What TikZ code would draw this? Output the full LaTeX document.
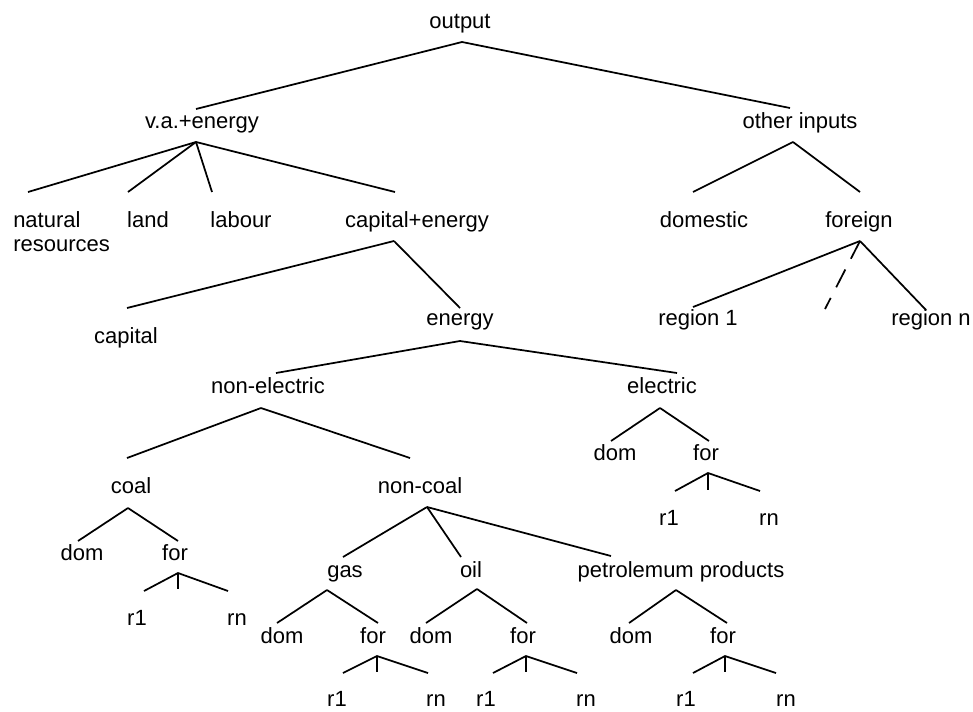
\documentclass[tikz,border=0pt]{standalone}
\usepackage{fontspec}
\setmainfont{Liberation Sans}
\usepackage{tikz}
\usetikzlibrary{positioning, calc}

\tikzset{
    lbl/.style={font=\fontsize{16.5}{18}\selectfont, inner sep=0pt, anchor=base},
    branch/.style={line width=1.3pt},
    gapline/.style={line width=1.3pt, dash pattern=on 15pt off 9pt}
}

\begin{document}
\begin{tikzpicture}[x=0.75pt, y=-0.75pt]
    \fill[white] (0,0) rectangle (973,711);
    \useasboundingbox (0,0) rectangle (973,711);
    % top levels
    \node[lbl] (out) at (460,28) {output};
    \node[lbl] (va) at (202,128) {v.a.+energy};
    \node[lbl] (oth) at (800,128) {other inputs};
    \node[lbl, anchor=base west, align=left] (nat) at (13,251) {natural\\resources};
    \node[lbl] (land) at (148,227) {land};
    \node[lbl] (lab) at (241,227) {labour};
    \node[lbl] (cape) at (417,227) {capital+energy};
    \node[lbl] (dom) at (704,227) {domestic};
    \node[lbl] (forg) at (859,227) {foreign};
    \node[lbl] (reg1) at (698,325) {region 1};
    \node[lbl] (regn) at (931,325) {region n};
    \node[lbl] (cap) at (126,343) {capital};
    \node[lbl] (enr) at (460,325) {energy};
    \node[lbl] (nel) at (268,393) {non-electric};
    \node[lbl] (ele) at (662,393) {electric};
    \node[lbl] (coal) at (131,493) {coal};
    \node[lbl] (ncoal) at (420,493) {non-coal};
    % electric
    \node[lbl] (edom) at (615,460) {dom};
    \node[lbl] (efor) at (706,460) {for};
    \node[lbl] (er1) at (669,525) {r1};
    \node[lbl] (ern) at (769,525) {rn};
    % coal
    \node[lbl] (cdom) at (82,560) {dom};
    \node[lbl] (cfor) at (175,560) {for};
    \node[lbl] (cr1) at (137,625) {r1};
    \node[lbl] (crn) at (237,625) {rn};
    % non-coal
    \node[lbl] (gas) at (345,577) {gas};
    \node[lbl] (oil) at (471,577) {oil};
    \node[lbl] (petro) at (681,577) {petrolemum products};
    \node[lbl] (gdom) at (282,643) {dom};
    \node[lbl] (gfor) at (373,643) {for};
    \node[lbl] (gr1) at (337,706) {r1};
    \node[lbl] (grn) at (436,706) {rn};
    \node[lbl] (odom) at (431,643) {dom};
    \node[lbl] (ofor) at (523,643) {for};
    \node[lbl] (or1) at (486,706) {r1};
    \node[lbl] (orn) at (586,706) {rn};
    \node[lbl] (pdom) at (631,643) {dom};
    \node[lbl] (pfor) at (723,643) {for};
    \node[lbl] (pr1) at (686,706) {r1};
    \node[lbl] (prn) at (786,706) {rn};

    % junctions
    \coordinate (out-j) at (462,42);
    \coordinate (va-j) at (196,142);
    \coordinate (oth-j) at (793,142);
    \coordinate (cape-j) at (394,241);
    \coordinate (forg-j) at (860,241);
    \coordinate (enr-j) at (460,341);
    \coordinate (nel-j) at (261,408);
    \coordinate (ele-j) at (660,408);
    \coordinate (efor-j) at (708,473);
    \coordinate (coal-j) at (128,508);
    \coordinate (cfor-j) at (178,573);
    \coordinate (ncoal-j) at (427,507);
    \coordinate (gas-j) at (327,590);
    \coordinate (gfor-j) at (377,656);
    \coordinate (oil-j) at (477,589);
    \coordinate (ofor-j) at (526,656);
    \coordinate (petro-j) at (676,590);
    \coordinate (pfor-j) at (725,656);

    % line ends
    \coordinate (va-t) at (196,109);
    \coordinate (oth-t) at (790,108);
    \coordinate (nat-t) at (28,192);
    \coordinate (land-t) at (128,192);
    \coordinate (lab-t) at (212,192);
    \coordinate (cape-t) at (395,192);
    \coordinate (dom-t) at (693,192);
    \coordinate (forg-t) at (860,192);
    \coordinate (cap-t) at (127,308);
    \coordinate (enr-t) at (460,308);
    \coordinate (reg1-t) at (693,307);
    \coordinate (regn-t) at (926,310);
    \coordinate (gap-t) at (825,309);
    \coordinate (nel-t) at (276,373);
    \coordinate (ele-t) at (677,373);
    \coordinate (coal-t) at (127,458);
    \coordinate (ncoal-t) at (410,458);
    \coordinate (edom-t) at (611,441);
    \coordinate (efor-t) at (709,441);
    \coordinate (er1-t) at (675,491);
    \coordinate (ern-t) at (760,491);
    \coordinate (efor-k) at (708,490);
    \coordinate (cdom-t) at (78,541);
    \coordinate (cfor-t) at (178,541);
    \coordinate (cr1-t) at (144,591);
    \coordinate (crn-t) at (228,591);
    \coordinate (cfor-k) at (178,589);
    \coordinate (gas-t) at (343,557);
    \coordinate (oil-t) at (461,557);
    \coordinate (petro-t) at (611,556);
    \coordinate (gdom-t) at (277,623);
    \coordinate (gfor-t) at (378,623);
    \coordinate (gr1-t) at (343,673);
    \coordinate (grn-t) at (428,673);
    \coordinate (gfor-k) at (377,672);
    \coordinate (odom-t) at (426,623);
    \coordinate (ofor-t) at (527,623);
    \coordinate (or1-t) at (493,673);
    \coordinate (orn-t) at (577,673);
    \coordinate (ofor-k) at (526,672);
    \coordinate (pdom-t) at (629,623);
    \coordinate (pfor-t) at (727,623);
    \coordinate (pr1-t) at (693,673);
    \coordinate (prn-t) at (776,673);
    \coordinate (pfor-k) at (725,672);

    % branches
    \foreach \c in {va,oth} \draw[branch] (out-j) -- (\c-t);
    \foreach \c in {nat,land,lab,cape} \draw[branch] (va-j) -- (\c-t);
    \foreach \c in {dom,forg} \draw[branch] (oth-j) -- (\c-t);
    \foreach \c in {cap,enr} \draw[branch] (cape-j) -- (\c-t);
    \foreach \c in {reg1,regn} \draw[branch] (forg-j) -- (\c-t);
    \draw[gapline] (forg-j) -- (gap-t);
    \foreach \c in {nel,ele} \draw[branch] (enr-j) -- (\c-t);
    \foreach \c in {coal,ncoal} \draw[branch] (nel-j) -- (\c-t);
    \foreach \c in {edom,efor} \draw[branch] (ele-j) -- (\c-t);
    \foreach \c in {cdom,cfor} \draw[branch] (coal-j) -- (\c-t);
    \foreach \c in {gas,oil,petro} \draw[branch] (ncoal-j) -- (\c-t);
    \foreach \c in {gdom,gfor} \draw[branch] (gas-j) -- (\c-t);
    \foreach \c in {odom,ofor} \draw[branch] (oil-j) -- (\c-t);
    \foreach \c in {pdom,pfor} \draw[branch] (petro-j) -- (\c-t);
    % foreign regions under each "for"
    \foreach \p in {e,c,g,o,p} {
        \draw[branch] (\p r1-t) -- (\p for-j) -- (\p rn-t);
        \draw[branch] (\p for-j) -- (\p for-k);
    }
\end{tikzpicture}
\end{document}
